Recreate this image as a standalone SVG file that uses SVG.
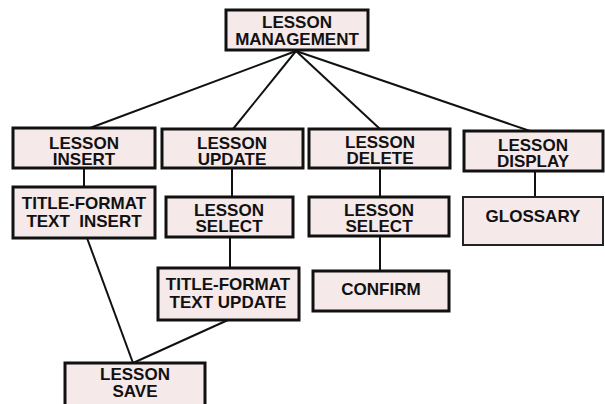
<svg xmlns="http://www.w3.org/2000/svg" width="605" height="404" viewBox="0 0 605 404">
  <style>
    .box { fill: #f5e9ea; stroke: #111; stroke-width: 3; }
    .thin { stroke-width: 2; stroke: #222; }
    .lbl { font-family: "Liberation Sans", Arial, sans-serif; font-weight: bold; font-size: 17px; fill: #111; text-anchor: middle; white-space: pre; }
    .edge { stroke: #111; stroke-width: 2; fill: none; }
  </style>
  <rect width="605" height="404" fill="#ffffff"/>

  <g id="connectors">
    <line class="edge" x1="296" y1="51" x2="90" y2="128"/>
    <line class="edge" x1="296" y1="51" x2="233" y2="129"/>
    <line class="edge" x1="296" y1="51" x2="380" y2="129"/>
    <line class="edge" x1="296" y1="51" x2="530" y2="131"/>
    <line class="edge" x1="84" y1="168" x2="84" y2="187"/>
    <line class="edge" x1="232" y1="168" x2="232" y2="197"/>
    <line class="edge" x1="230" y1="237" x2="230" y2="268"/>
    <line class="edge" x1="380" y1="168" x2="380" y2="197"/>
    <line class="edge" x1="380" y1="236" x2="380" y2="271"/>
    <line class="edge" x1="535" y1="171" x2="535" y2="197"/>
    <line class="edge" x1="87" y1="238" x2="133" y2="363"/>
    <line class="edge" x1="228" y1="320" x2="133" y2="363"/>
  </g>

  <g id="lesson-management">
    <rect class="box" x="226" y="10" width="142" height="40"/>
    <text class="lbl" x="297" y="28">LESSON<tspan x="297" dy="17">MANAGEMENT</tspan></text>
  </g>

  <g id="lesson-insert">
    <rect class="box" x="13" y="128" width="142" height="40"/>
    <text class="lbl" x="84" y="149">LESSON<tspan x="84" dy="16">INSERT</tspan></text>
  </g>

  <g id="lesson-update">
    <rect class="box" x="162" y="129" width="141" height="39"/>
    <text class="lbl" x="232" y="149">LESSON<tspan x="232" dy="16">UPDATE</tspan></text>
  </g>

  <g id="lesson-delete">
    <rect class="box" x="309" y="129" width="141" height="39"/>
    <text class="lbl" x="380" y="148">LESSON<tspan x="380" dy="16">DELETE</tspan></text>
  </g>

  <g id="lesson-display">
    <rect class="box" x="464" y="131" width="139" height="40"/>
    <text class="lbl" x="533" y="151">LESSON<tspan x="533" dy="16">DISPLAY</tspan></text>
  </g>

  <g id="title-format-text-insert">
    <rect class="box" x="13" y="187" width="142" height="51"/>
    <text class="lbl" x="84" y="209">TITLE-FORMAT<tspan x="84" dy="18">TEXT  INSERT</tspan></text>
  </g>

  <g id="lesson-select-update">
    <rect class="box" x="166" y="197" width="127" height="40"/>
    <text class="lbl" x="229" y="216">LESSON<tspan x="229" dy="16">SELECT</tspan></text>
  </g>

  <g id="lesson-select-delete">
    <rect class="box" x="309" y="197" width="140" height="39"/>
    <text class="lbl" x="379" y="216">LESSON<tspan x="379" dy="16">SELECT</tspan></text>
  </g>

  <g id="glossary">
    <rect class="box thin" x="463" y="197" width="140" height="48"/>
    <text class="lbl" x="533" y="222">GLOSSARY</text>
  </g>

  <g id="title-format-text-update">
    <rect class="box" x="158" y="268" width="141" height="52"/>
    <text class="lbl" x="228" y="290">TITLE-FORMAT<tspan x="228" dy="18">TEXT UPDATE</tspan></text>
  </g>

  <g id="confirm">
    <rect class="box" x="313" y="271" width="136" height="40"/>
    <text class="lbl" x="381" y="295">CONFIRM</text>
  </g>

  <g id="lesson-save">
    <rect class="box" x="65" y="363" width="140" height="44"/>
    <text class="lbl" x="135" y="380">LESSON<tspan x="135" dy="17">SAVE</tspan></text>
  </g>
</svg>
